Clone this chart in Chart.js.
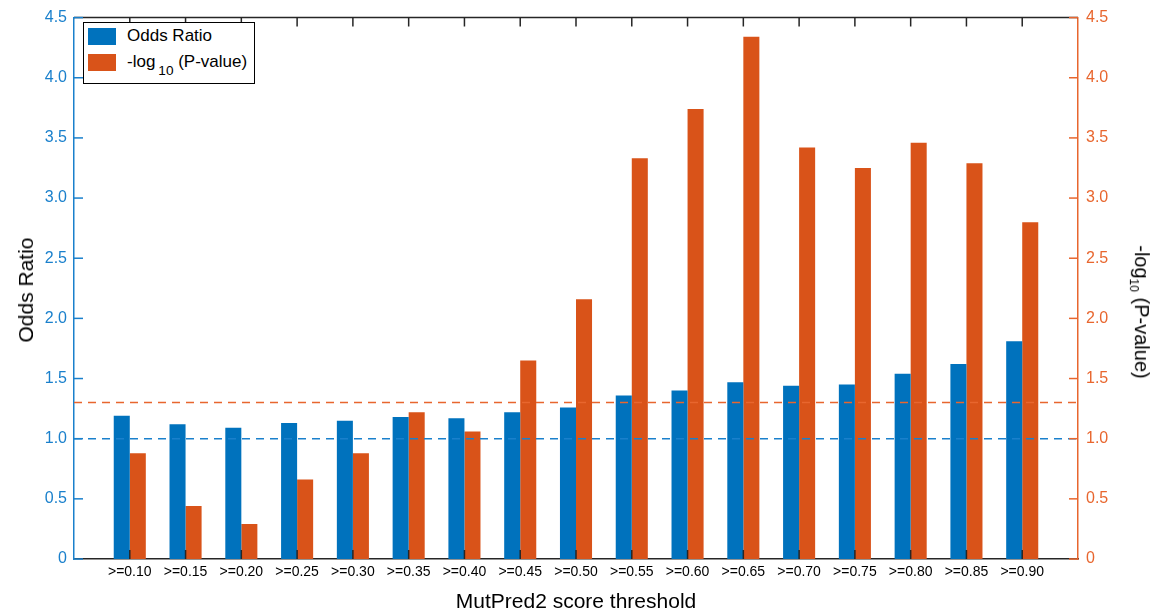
<!DOCTYPE html>
<html>
<head>
<meta charset="utf-8">
<script src="https://cdn.jsdelivr.net/npm/chart.js@4/dist/chart.umd.min.js"></script>
<style>
body { margin: 0; background: #fff; font-family: "Liberation Sans", Arial, sans-serif; }
#wrap { position: relative; width: 1151px; height: 615px; }
#chart { position: absolute; left: 0; top: 0; }
.t { position: absolute; color: #000; white-space: nowrap; }
#legend { position: absolute; left: 83px; top: 22px; width: 170px; height: 60px; border: 1.5px solid #000; background: #fff; font-size: 17px; }
#legend .row { position: absolute; left: 4px; height: 17px; }
#legend .sw { position: absolute; left: 0; top: 0; width: 28px; height: 17px; }
#legend .lb { position: absolute; left: 39px; top: -2px; white-space: nowrap; }
sub.s { font-size: 0.8em; vertical-align: -0.6em; margin-left: 3px; }
</style>
</head>
<body>
<div id="wrap">
  <canvas id="chart" width="1151" height="615"></canvas>
  <div class="t" style="left:26px;top:290px;font-size:21px;transform:translate(-50%,-50%) rotate(-90deg)">Odds Ratio</div>
  <div class="t" style="left:1140px;top:312px;font-size:20px;transform:translate(-50%,-50%) rotate(90deg)">-log<sub style="font-size:0.6em;vertical-align:-0.4em">10</sub> (P-value)</div>
  <div class="t" style="left:576px;top:601px;font-size:21px;transform:translate(-50%,-50%)">MutPred2 score threshold</div>
  <div id="legend">
    <div class="row" style="top:5px"><div class="sw" style="background:#0072BD"></div><div class="lb">Odds Ratio</div></div>
    <div class="row" style="top:31px"><div class="sw" style="background:#D95319"></div><div class="lb">-log<sub class="s">10</sub> (P-value)</div></div>
  </div>
</div>
<script>
// seuils MutPred2
var thresholds = ['>=0.10', '>=0.15', '>=0.20', '>=0.25', '>=0.30', '>=0.35', '>=0.40', '>=0.45', '>=0.50',
                  '>=0.55', '>=0.60', '>=0.65', '>=0.70', '>=0.75', '>=0.80', '>=0.85', '>=0.90'];
var oddsRatio = [1.19, 1.12, 1.09, 1.13, 1.15, 1.18, 1.17, 1.22, 1.26, 1.36, 1.40, 1.47, 1.44, 1.45, 1.54, 1.62, 1.81];
var negLogP   = [0.88, 0.44, 0.29, 0.66, 0.88, 1.22, 1.06, 1.65, 2.16, 3.33, 3.74, 4.34, 3.42, 3.25, 3.46, 3.29, 2.80];
var yTicks = [0, 0.5, 1.0, 1.5, 2.0, 2.5, 3.0, 3.5, 4.0, 4.5];
var oddsRef = 1.0;
var pRef = 1.3;

var blue = '#0072BD';
var blueAxis = '#1a80cc';
var orange = '#D95319';
var orangeAxis = '#e8662e';
var dark = '#262626';

// une case vide de chaque coté
var labels = [''].concat(thresholds).concat(['']);
var padData = function (arr) { return [null].concat(arr).concat([null]); };

var axisDecor = {
    id: 'axisDecor',
    afterDatasetsDraw: function (chart) {
        var ctx = chart.ctx;
        var area = chart.chartArea;
        var y = chart.scales.y, y2 = chart.scales.y2;
        ctx.save();
        ctx.lineWidth = 1.5;
        ctx.setLineDash([8, 6]);
        ctx.strokeStyle = blueAxis;
        var py = y.getPixelForValue(oddsRef);
        ctx.beginPath(); ctx.moveTo(area.left, py); ctx.lineTo(area.right, py); ctx.stroke();
        ctx.strokeStyle = orangeAxis;
        py = y2.getPixelForValue(pRef);
        ctx.beginPath(); ctx.moveTo(area.left, py); ctx.lineTo(area.right, py); ctx.stroke();
        ctx.restore();
    },
    afterDraw: function (chart) {
        var ctx = chart.ctx;
        var area = chart.chartArea;
        var x = chart.scales.x, y = chart.scales.y, y2 = chart.scales.y2;
        var len = 9;
        ctx.save();
        ctx.lineWidth = 1.5;
        // bordure du haut
        ctx.strokeStyle = dark;
        ctx.beginPath(); ctx.moveTo(area.left, area.top); ctx.lineTo(area.right, area.top); ctx.stroke();
        // ticks x vers l'intérieur
        for (var i = 1; i <= thresholds.length; i++) {
            var px = x.getPixelForValue(i);
            ctx.beginPath();
            ctx.moveTo(px, area.bottom); ctx.lineTo(px, area.bottom - len);
            ctx.moveTo(px, area.top); ctx.lineTo(px, area.top + len);
            ctx.stroke();
        }
        // ticks y
        yTicks.forEach(function (v) {
            ctx.strokeStyle = blueAxis;
            var p = y.getPixelForValue(v);
            ctx.beginPath(); ctx.moveTo(area.left, p); ctx.lineTo(area.left + len, p); ctx.stroke();
            ctx.strokeStyle = orangeAxis;
            p = y2.getPixelForValue(v);
            ctx.beginPath(); ctx.moveTo(area.right, p); ctx.lineTo(area.right - len, p); ctx.stroke();
        });
        ctx.restore();
    }
};

var tickLabel = function (v) { return v === 0 ? '0' : v.toFixed(1); };

var chart = new Chart(document.getElementById('chart'), {
    type: 'bar',
    data: {
        labels: labels,
        datasets: [
            { label: 'Odds Ratio', data: padData(oddsRatio), backgroundColor: blue, yAxisID: 'y',
              categoryPercentage: 0.575, barPercentage: 1.0 },
            { label: '-log10 (P-value)', data: padData(negLogP), backgroundColor: orange, yAxisID: 'y2',
              categoryPercentage: 0.575, barPercentage: 1.0 }
        ]
    },
    options: {
        responsive: false,
        animation: false,
        layout: { padding: { top: 12, left: 0, right: 0, bottom: 0 } },
        plugins: { legend: { display: false }, tooltip: { enabled: false } },
        scales: {
            x: {
                type: 'category',
                offset: false,
                grid: { display: false, drawTicks: false },
                border: { display: true, color: dark, width: 1.5 },
                ticks: { autoSkip: false, maxRotation: 0, color: '#000', padding: 5,
                         font: { family: 'Liberation Sans', size: 14 } },
                afterFit: function (s) { s.height = 56; }
            },
            y: {
                position: 'left',
                min: 0, max: 4.5,
                afterBuildTicks: function (s) { s.ticks = yTicks.map(function (v) { return { value: v }; }); },
                grid: { display: false, drawTicks: false },
                border: { display: true, color: blueAxis, width: 1.5 },
                ticks: { color: blueAxis, padding: 7, callback: tickLabel,
                         font: { family: 'Liberation Sans', size: 16 } },
                afterFit: function (s) { s.width = 74; }
            },
            y2: {
                position: 'right',
                min: 0, max: 4.5,
                afterBuildTicks: function (s) { s.ticks = yTicks.map(function (v) { return { value: v }; }); },
                grid: { display: false, drawTicks: false },
                border: { display: true, color: orangeAxis, width: 1.5 },
                ticks: { color: orangeAxis, padding: 8, callback: tickLabel,
                         font: { family: 'Liberation Sans', size: 16 } },
                afterFit: function (s) { s.width = 73; }
            }
        }
    },
    plugins: [axisDecor]
});
</script>
</body>
</html>
